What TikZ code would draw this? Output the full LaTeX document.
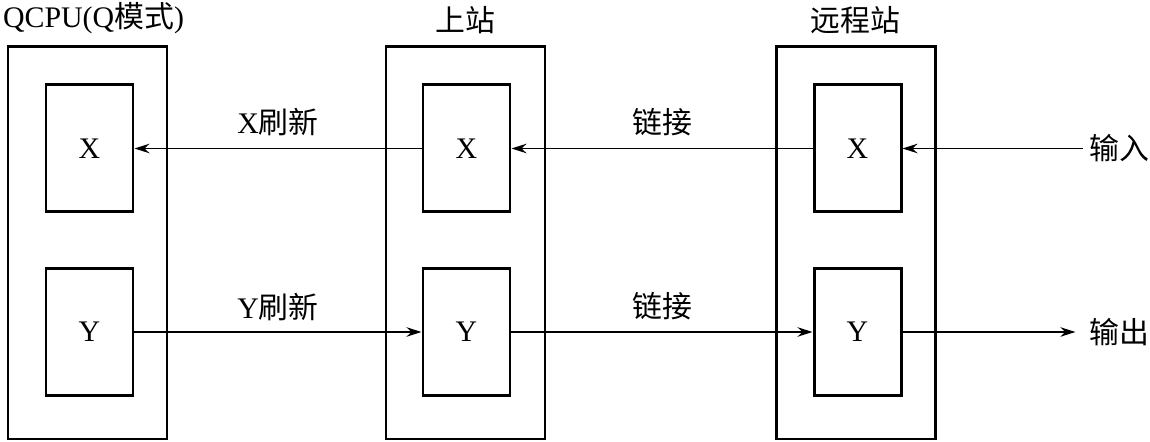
\documentclass[tikz,border=0pt]{standalone}
\usepackage{fontspec}
\setmainfont{Liberation Serif}
\newfontfamily\cjk{Noto Sans CJK SC}
\usetikzlibrary{positioning,arrows.meta}

\begin{document}
\begin{tikzpicture}[
    station/.style={draw=black, line width=1.7pt, minimum width=3.18cm, minimum height=7.84cm},
    reg/.style={draw=black, line width=1.7pt, minimum width=1.74cm, minimum height=2.54cm, font=\fontsize{17pt}{20pt}\selectfont},
    header/.style={font=\fontsize{17pt}{20pt}\selectfont},
    flowlabel/.style={font=\fontsize{17pt}{20pt}\selectfont},
    arr/.style={line width=0.85pt, -{Stealth[length=3mm, width=1.9mm]}}
]
\useasboundingbox (0,0) rectangle (23,8.84);

% Stations
\node[station] (qcpu) at (1.75,3.98) {};
\node[station] (master) at (9.31,3.98) {};
\node[station] (remote) at (17.11,3.98) {};

\node[header, above=0.1cm of qcpu, xshift=0.12cm] {QCPU(Q{\cjk 模式})};
\node[header, above=0.1cm of master] {\cjk 上站};
\node[header, above=0.1cm of remote] {\cjk 远程站};

% Registers
\node[reg] (qx) at (1.79,5.87) {X};
\node[reg] (qy) at (1.79,2.2) {Y};
\node[reg] (mx) at (9.33,5.87) {X};
\node[reg] (my) at (9.33,2.2) {Y};
\node[reg] (rx) at (17.15,5.87) {X};
\node[reg] (ry) at (17.15,2.2) {Y};

% Input / output
\node[flowlabel] (inp) at (22.38,5.87) {\cjk 输入};
\node[flowlabel] (outp) at (22.38,2.2) {\cjk 输出};

% X direction
\draw[arr] (mx) -- node[flowlabel, above=0.12cm] {X{\cjk 刷新}} (qx);
\draw[arr] (rx) -- node[flowlabel, above=0.12cm] {\cjk 链接} (mx);
\draw[arr] (inp) -- (rx);

% Y direction
\draw[arr] (qy) -- node[flowlabel, above=0.1cm] {Y{\cjk 刷新}} (my);
\draw[arr] (my) -- node[flowlabel, above=0.1cm] {\cjk 链接} (ry);
\draw[arr, shorten >=0.15cm] (ry) -- (outp);

\end{tikzpicture}
\end{document}
